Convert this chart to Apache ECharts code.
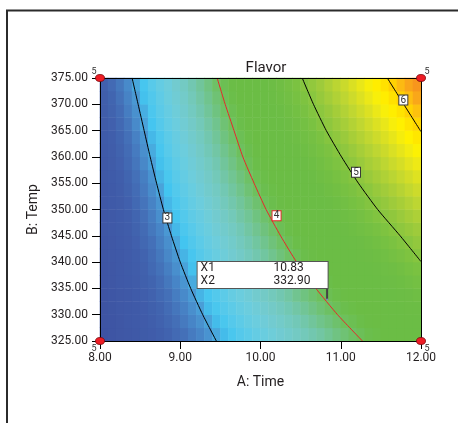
<!DOCTYPE html>
<html>
<head>
<meta charset="utf-8">
<script src="https://cdn.jsdelivr.net/npm/echarts@6/dist/echarts.min.js"></script>
<style>
  html, body { margin: 0; padding: 0; background: #fff; }
  #chart { width: 458px; height: 423px; }
</style>
</head>
<body>
<div id="chart"></div>
<script>
// Time bin centres (A) and temperature bin centres (B) of the response grid
const timeBins = [8.05, 8.15, 8.25, 8.35, 8.45, 8.55, 8.65, 8.75, 8.85, 8.95,
                  9.05, 9.15, 9.25, 9.35, 9.45, 9.55, 9.65, 9.75, 9.85, 9.95,
                  10.05, 10.15, 10.25, 10.35, 10.45, 10.55, 10.65, 10.75, 10.85, 10.95,
                  11.05, 11.15, 11.25, 11.35, 11.45, 11.55, 11.65, 11.75, 11.85, 11.95];
const tempBins = [326.25, 328.75, 331.25, 333.75, 336.25, 338.75, 341.25, 343.75, 346.25, 348.75,
                  351.25, 353.75, 356.25, 358.75, 361.25, 363.75, 366.25, 368.75, 371.25, 373.75];

// Predicted flavor, one row per temperature bin (bottom to top), one value per time bin
const flavorRows = [
  [2.24,2.29,2.35,2.41,2.46,2.52,2.58,2.63,2.69,2.75,2.80,2.86,2.91,2.97,3.03,3.08,3.14,3.20,3.25,3.31,3.36,3.42,3.48,3.53,3.59,3.64,3.70,3.75,3.81,3.87,3.92,3.98,4.03,4.09,4.14,4.20,4.25,4.31,4.36,4.42],
  [2.25,2.31,2.37,2.43,2.49,2.55,2.61,2.67,2.73,2.79,2.85,2.91,2.96,3.02,3.08,3.14,3.20,3.26,3.32,3.38,3.43,3.49,3.55,3.61,3.66,3.72,3.78,3.84,3.89,3.95,4.01,4.06,4.12,4.18,4.23,4.29,4.35,4.40,4.46,4.51],
  [2.26,2.32,2.39,2.45,2.51,2.58,2.64,2.70,2.77,2.83,2.89,2.95,3.01,3.08,3.14,3.20,3.26,3.32,3.38,3.44,3.50,3.56,3.62,3.68,3.74,3.80,3.86,3.92,3.98,4.03,4.09,4.15,4.21,4.27,4.32,4.38,4.44,4.49,4.55,4.61],
  [2.27,2.34,2.41,2.47,2.54,2.61,2.67,2.74,2.80,2.87,2.93,3.00,3.06,3.13,3.19,3.25,3.32,3.38,3.44,3.51,3.57,3.63,3.69,3.75,3.82,3.88,3.94,4.00,4.06,4.12,4.18,4.24,4.30,4.35,4.41,4.47,4.53,4.59,4.64,4.70],
  [2.29,2.36,2.43,2.50,2.57,2.64,2.70,2.77,2.84,2.91,2.98,3.04,3.11,3.18,3.24,3.31,3.38,3.44,3.51,3.57,3.63,3.70,3.76,3.83,3.89,3.95,4.01,4.08,4.14,4.20,4.26,4.32,4.38,4.44,4.50,4.56,4.62,4.68,4.74,4.80],
  [2.30,2.37,2.45,2.52,2.59,2.66,2.74,2.81,2.88,2.95,3.02,3.09,3.16,3.23,3.30,3.36,3.43,3.50,3.57,3.63,3.70,3.77,3.83,3.90,3.96,4.03,4.09,4.15,4.22,4.28,4.34,4.41,4.47,4.53,4.59,4.65,4.71,4.77,4.83,4.89],
  [2.32,2.39,2.47,2.55,2.62,2.69,2.77,2.84,2.92,2.99,3.06,3.13,3.21,3.28,3.35,3.42,3.49,3.56,3.63,3.70,3.76,3.83,3.90,3.97,4.03,4.10,4.17,4.23,4.30,4.36,4.43,4.49,4.55,4.62,4.68,4.74,4.81,4.87,4.93,4.99],
  [2.34,2.41,2.49,2.57,2.65,2.73,2.80,2.88,2.95,3.03,3.10,3.18,3.25,3.33,3.40,3.47,3.54,3.62,3.69,3.76,3.83,3.90,3.97,4.04,4.11,4.17,4.24,4.31,4.38,4.44,4.51,4.58,4.64,4.71,4.77,4.83,4.90,4.96,5.02,5.09],
  [2.36,2.44,2.52,2.60,2.68,2.76,2.84,2.91,2.99,3.07,3.15,3.22,3.30,3.37,3.45,3.52,3.60,3.67,3.75,3.82,3.89,3.96,4.04,4.11,4.18,4.25,4.32,4.39,4.46,4.52,4.59,4.66,4.73,4.79,4.86,4.93,4.99,5.06,5.12,5.18],
  [2.38,2.46,2.54,2.62,2.71,2.79,2.87,2.95,3.03,3.11,3.19,3.27,3.34,3.42,3.50,3.58,3.65,3.73,3.80,3.88,3.95,4.03,4.10,4.17,4.25,4.32,4.39,4.46,4.53,4.60,4.67,4.74,4.81,4.88,4.95,5.02,5.08,5.15,5.22,5.28],
  [2.40,2.48,2.57,2.65,2.74,2.82,2.90,2.98,3.07,3.15,3.23,3.31,3.39,3.47,3.55,3.63,3.71,3.78,3.86,3.94,4.02,4.09,4.17,4.24,4.32,4.39,4.46,4.54,4.61,4.68,4.75,4.83,4.90,4.97,5.04,5.11,5.18,5.24,5.31,5.38],
  [2.42,2.51,2.59,2.68,2.77,2.85,2.94,3.02,3.10,3.19,3.27,3.35,3.44,3.52,3.60,3.68,3.76,3.84,3.92,4.00,4.08,4.15,4.23,4.31,4.39,4.46,4.54,4.61,4.69,4.76,4.84,4.91,4.98,5.05,5.13,5.20,5.27,5.34,5.41,5.48],
  [2.45,2.53,2.62,2.71,2.80,2.88,2.97,3.06,3.14,3.23,3.31,3.40,3.48,3.56,3.65,3.73,3.81,3.89,3.97,4.06,4.14,4.22,4.30,4.37,4.45,4.53,4.61,4.69,4.76,4.84,4.92,4.99,5.07,5.14,5.22,5.29,5.36,5.44,5.51,5.58],
  [2.47,2.56,2.65,2.74,2.83,2.92,3.01,3.09,3.18,3.27,3.35,3.44,3.52,3.61,3.69,3.78,3.86,3.95,4.03,4.11,4.19,4.28,4.36,4.44,4.52,4.60,4.68,4.76,4.84,4.92,5.00,5.07,5.15,5.23,5.30,5.38,5.46,5.53,5.61,5.68],
  [2.50,2.59,2.68,2.77,2.86,2.95,3.04,3.13,3.22,3.31,3.39,3.48,3.57,3.66,3.74,3.83,3.91,4.00,4.08,4.17,4.25,4.34,4.42,4.50,4.59,4.67,4.75,4.83,4.91,4.99,5.07,5.15,5.23,5.31,5.39,5.47,5.55,5.63,5.71,5.78],
  [2.53,2.62,2.71,2.80,2.89,2.98,3.07,3.16,3.25,3.34,3.43,3.52,3.61,3.70,3.79,3.88,3.96,4.05,4.14,4.22,4.31,4.40,4.48,4.57,4.65,4.74,4.82,4.90,4.99,5.07,5.15,5.24,5.32,5.40,5.48,5.56,5.64,5.73,5.81,5.89],
  [2.56,2.65,2.74,2.83,2.93,3.02,3.11,3.20,3.29,3.38,3.47,3.56,3.65,3.74,3.83,3.92,4.01,4.10,4.19,4.28,4.37,4.45,4.54,4.63,4.72,4.80,4.89,4.98,5.06,5.15,5.23,5.32,5.40,5.49,5.57,5.65,5.74,5.82,5.91,5.99],
  [2.59,2.68,2.77,2.87,2.96,3.05,3.15,3.24,3.33,3.42,3.51,3.61,3.70,3.79,3.88,3.97,4.06,4.15,4.24,4.33,4.42,4.51,4.60,4.69,4.78,4.87,4.96,5.05,5.13,5.22,5.31,5.40,5.49,5.57,5.66,5.75,5.83,5.92,6.01,6.09],
  [2.62,2.71,2.81,2.90,2.99,3.09,3.18,3.27,3.37,3.46,3.55,3.65,3.74,3.83,3.92,4.02,4.11,4.20,4.29,4.39,4.48,4.57,4.66,4.75,4.84,4.93,5.02,5.12,5.21,5.30,5.39,5.48,5.57,5.66,5.75,5.84,5.93,6.02,6.11,6.20],
  [2.65,2.75,2.84,2.93,3.03,3.12,3.22,3.31,3.40,3.50,3.59,3.69,3.78,3.87,3.97,4.06,4.16,4.25,4.34,4.44,4.53,4.62,4.72,4.81,4.90,5.00,5.09,5.18,5.28,5.37,5.46,5.56,5.65,5.74,5.84,5.93,6.02,6.12,6.21,6.30]
];

// Contour lines [time, temp]
const contour3 = [[8.40, 375], [8.475, 370], [8.55, 365], [8.625, 360], [8.705, 355], [8.79, 350],
                  [8.89, 345], [9.00, 340], [9.13, 335], [9.28, 330], [9.45, 325]];
const contour4 = [[9.46, 375], [9.56, 370], [9.67, 365], [9.78, 360], [9.92, 355], [10.07, 350],
                  [10.25, 345], [10.45, 340], [10.69, 335], [10.96, 330], [11.27, 325]];
const contour5 = [[10.52, 375], [10.66, 370], [10.82, 365], [11.01, 360], [11.22, 355], [11.46, 350],
                  [11.74, 345], [12.0, 340.1]];
const contour6 = [[11.58, 375], [11.785, 370], [12.0, 364.8]];

// Contour level tags [time, temp, level]
const contourTags = [[8.84, 348.4, 3], [10.20, 348.8, 4], [11.19, 357.1, 5], [11.78, 370.8, 6]];

// Design points [time, temp, runs]
const designPoints = [[8, 375, 5], [12, 375, 5], [8, 325, 5], [12, 325, 5]];

// Flagged point
const flagTime = 10.83;
const flagTemp = 332.90;
const flagTop = 335.1;

// Axis ticks
const timeTicks = { min: 8, max: 12, step: 1 };
const tempTicks = { min: 325, max: 375, step: 5 };

// Colour ramp for flavor values 2.1 .. 6.6 in steps of 0.1
const ramp = [
  '#3C4E9F', '#3D52A2', '#3E55A4', '#3F58A6', '#3F5AA8', '#405DAA', '#4164AF', '#4470B8', '#4783C5', '#4A9AD4',
  '#43C5F0', '#55C9EB', '#63CCE4', '#6DCDDC', '#72CBCF', '#73CAC2', '#72C7AF', '#71C596', '#6FC27A', '#6DC05E',
  '#6BBE4B', '#6BBD45', '#6BBD45', '#6BBD45', '#6BBD45', '#6CBD45', '#6FBE44', '#74C043', '#7BC241', '#86C53F',
  '#93C83D', '#A1CC3A', '#B0D136', '#C0D731', '#D0DC29', '#E1E31F', '#F1EB13', '#FFF200', '#FFE600', '#FFD500',
  '#FDBF10', '#F9A719', '#F7961D', '#F68C1E', '#F5821F', '#F47920'
];

const cells = [];
flavorRows.forEach(function (row, r) {
  row.forEach(function (v, c) { cells.push([c, r, v]); });
});

const fontFamily = 'Roboto, "Open Sans", sans-serif';
const textColor = '#231F20';
const gridBox = { left: 100, top: 78, width: 321, height: 263 };

const chart = echarts.init(document.getElementById('chart'), null, { renderer: 'canvas' });

const designLabelOffsets = [[-6, -6], [6, -6], [-6, 8], [6, 8]];

function contourSeries(points, color) {
  return {
    type: 'line', xAxisIndex: 1, yAxisIndex: 1, data: points, smooth: 0.2,
    showSymbol: false, silent: true, z: 3, lineStyle: { color: color, width: 1 }
  };
}

chart.setOption({
  animation: false,
  backgroundColor: '#fff',
  textStyle: { fontFamily: fontFamily, color: textColor },
  title: {
    text: 'Flavor',
    left: 261,
    top: 56,
    textAlign: 'center',
    textStyle: { fontFamily: fontFamily, fontSize: 15, fontWeight: 'normal', color: textColor }
  },
  graphic: [{
    type: 'rect',
    shape: { x: 7, y: 10.5, width: 470, height: 430 },
    style: { fill: 'none', stroke: '#2b2b2b', lineWidth: 2 },
    silent: true
  }],
  grid: [
    Object.assign({}, gridBox),
    Object.assign({}, gridBox)
  ],
  visualMap: {
    show: false,
    type: 'continuous',
    seriesIndex: 0,
    dimension: 2,
    min: 2.1,
    max: 6.6,
    inRange: { color: ramp }
  },
  xAxis: [
    { gridIndex: 0, type: 'category', data: timeBins, show: false },
    {
      gridIndex: 1, type: 'value', position: 'bottom', z: 10,
      min: timeTicks.min, max: timeTicks.max, interval: timeTicks.step,
      axisLine: { show: true, lineStyle: { color: '#000', width: 1 } },
      axisTick: { show: true, length: 8, lineStyle: { color: '#000' } },
      axisLabel: { formatter: function (v) { return v.toFixed(2); }, fontSize: 12, color: textColor, margin: 11 },
      splitLine: { show: false },
      name: 'A: Time', nameLocation: 'middle', nameGap: 34,
      nameTextStyle: { fontSize: 14, color: textColor }
    },
    {
      gridIndex: 1, type: 'value', position: 'top', z: 10,
      min: timeTicks.min, max: timeTicks.max,
      axisLine: { show: true, onZero: false, lineStyle: { color: '#000', width: 1 } },
      axisTick: { show: false }, axisLabel: { show: false }, splitLine: { show: false }
    }
  ],
  yAxis: [
    { gridIndex: 0, type: 'category', data: tempBins, show: false },
    {
      gridIndex: 1, type: 'value', position: 'left', z: 10,
      min: tempTicks.min, max: tempTicks.max, interval: tempTicks.step,
      axisLine: { show: true, lineStyle: { color: '#000', width: 1 } },
      axisTick: { show: true, length: 8, lineStyle: { color: '#000' } },
      axisLabel: { formatter: function (v) { return v.toFixed(2); }, fontSize: 12, color: textColor, margin: 12 },
      splitLine: { show: false },
      name: 'B: Temp', nameLocation: 'middle', nameGap: 60,
      nameTextStyle: { fontSize: 14, color: textColor }
    },
    {
      gridIndex: 1, type: 'value', position: 'right', z: 10,
      min: tempTicks.min, max: tempTicks.max,
      axisLine: { show: true, onZero: false, lineStyle: { color: '#000', width: 1 } },
      axisTick: { show: false }, axisLabel: { show: false }, splitLine: { show: false }
    }
  ],
  series: [
    {
      type: 'heatmap', xAxisIndex: 0, yAxisIndex: 0, data: cells,
      silent: true, progressive: 0, z: 1
    },
    contourSeries(contour3, '#000'),
    contourSeries(contour4, '#E8262B'),
    contourSeries(contour5, '#000'),
    contourSeries(contour6, '#000'),
    {
      type: 'scatter', xAxisIndex: 1, yAxisIndex: 1, silent: true, z: 6,
      symbol: 'rect', symbolSize: [9, 10],
      data: contourTags.map(function (t) {
        return {
          value: t,
          itemStyle: { color: '#fff', opacity: 1, borderColor: t[2] === 4 ? '#E8262B' : '#333', borderWidth: 1 }
        };
      }),
      label: {
        show: true, position: 'inside', fontSize: 10, color: '#333',
        formatter: function (p) { return String(p.value[2]); }
      }
    },
    {
      type: 'scatter', xAxisIndex: 1, yAxisIndex: 1, silent: true, z: 12,
      symbol: 'circle', symbolSize: [9, 7],
      itemStyle: { color: '#EE1C25', opacity: 1, borderColor: '#7a0a0e', borderWidth: 0.8 },
      data: designPoints.map(function (d, i) {
        return { value: d, label: { offset: designLabelOffsets[i] } };
      }),
      label: {
        show: true, position: 'inside', fontSize: 9, color: '#333',
        formatter: function (p) { return String(p.value[2]); }
      }
    },
    {
      type: 'line', xAxisIndex: 1, yAxisIndex: 1, silent: true, z: 7,
      data: [[flagTime, flagTemp], [flagTime, flagTop]],
      showSymbol: false, lineStyle: { color: '#444', width: 2 }
    },
    {
      type: 'scatter', xAxisIndex: 1, yAxisIndex: 1, silent: true, z: 8,
      symbol: 'circle', symbolSize: 2,
      itemStyle: { color: '#7b86c4', opacity: 1 },
      data: [[flagTime, flagTemp]],
      label: {
        show: true,
        position: [1.5, -10.5],
        align: 'right',
        verticalAlign: 'bottom',
        backgroundColor: '#fff',
        borderColor: '#555',
        borderWidth: 1,
        padding: [0, 3, 0, 3],
        formatter: function (p) {
          return '{k|X1}{v|' + p.value[0].toFixed(2) + '}\n{k|X2}{v|' + p.value[1].toFixed(2) + '}';
        },
        rich: {
          k: { width: 73, align: 'left', fontSize: 12, lineHeight: 13, color: textColor, fontFamily: fontFamily },
          v: { width: 51, align: 'left', fontSize: 12, lineHeight: 13, color: textColor, fontFamily: fontFamily }
        }
      }
    }
  ]
});
</script>
</body>
</html>
